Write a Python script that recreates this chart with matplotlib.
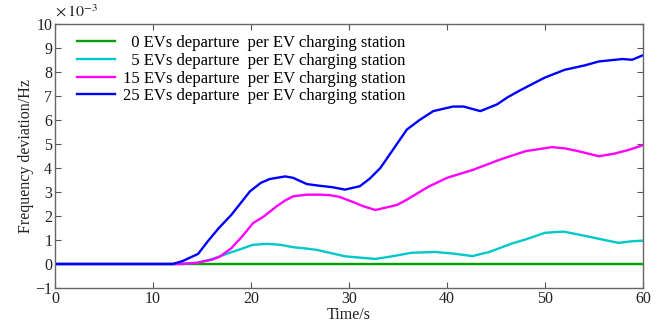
import matplotlib
matplotlib.use("Agg")
import matplotlib.pyplot as plt

plt.rcParams['font.family'] = ['Liberation Serif', 'DejaVu Serif']
plt.rcParams['mathtext.fontset'] = 'stix'

# Data (values in units of 1e-3 Hz)
t0 = [0, 60]
y0 = [0, 0]

t5 = [0, 12, 13, 14.5, 16, 17.5, 18.8, 20.2, 21.6, 23, 24.3, 25.5, 26.7, 28.2, 29.6, 31, 32.7,
      34.4, 36.4, 38.8, 40.5, 42.6, 44.3, 46.6, 48, 50, 51.9, 54.1, 56.2, 57.5, 58.9, 60]
y5 = [0, 0, 0.02, 0.05, 0.2, 0.42, 0.6, 0.8, 0.84, 0.8, 0.7, 0.65, 0.59, 0.45, 0.32, 0.27, 0.21,
      0.32, 0.47, 0.5, 0.44, 0.33, 0.5, 0.85, 1.02, 1.3, 1.35, 1.17, 0.99, 0.88, 0.95, 0.97]

t15 = [0, 13, 14.5, 16, 16.8, 18, 19.1, 20.2, 21.3, 22.6, 23.5, 24.3, 25.7, 27, 28, 29, 30.3,
       31.5, 32.7, 34.9, 35.9, 38.1, 40, 42.7, 45.4, 48, 50.7, 52, 53.4, 55.5, 57.1, 58.5, 60]
y15 = [0, 0, 0.05, 0.18, 0.3, 0.66, 1.15, 1.7, 1.98, 2.4, 2.65, 2.82, 2.89, 2.89, 2.87, 2.8, 2.6,
       2.4, 2.25, 2.46, 2.68, 3.22, 3.59, 3.93, 4.35, 4.7, 4.87, 4.82, 4.7, 4.49, 4.6, 4.75, 4.95]

t25 = [0, 12, 13, 14.6, 15.6, 16.7, 18, 19.9, 21, 21.9, 23.5, 24.3, 25.7, 27, 28.3, 29.6,
       31.1, 32.1, 33.2, 34.5, 35.9, 37.2, 38.6, 40.6, 41.7, 43.4, 45.1, 46.2, 47.3, 48.7, 50,
       52, 54.1, 55.5, 57.9, 58.9, 60]
y25 = [0, 0, 0.12, 0.42, 0.95, 1.49, 2.05, 3.03, 3.38, 3.54, 3.65, 3.59, 3.33, 3.26, 3.2, 3.1,
       3.24, 3.55, 4.0, 4.77, 5.6, 6.0, 6.37, 6.56, 6.56, 6.37, 6.65, 6.95, 7.2, 7.5, 7.77,
       8.09, 8.28, 8.44, 8.54, 8.51, 8.7]

labels = ["  0 EVs departure  per EV charging station",
          "  5 EVs departure  per EV charging station",
          "15 EVs departure  per EV charging station",
          "25 EVs departure  per EV charging station"]
colors = ["#00a000", "#00c8c8", "#ff00ff", "#0000ff"]

xticks = [0, 10, 20, 30, 40, 50, 60]
yticks = list(range(-1, 11))

fig = plt.figure(figsize=(6.64, 3.24), dpi=100)
ax = fig.add_axes([55/664, 1-288/324, (643-55)/664, (288-24)/324])

series = [(t0, y0), (t5, y5), (t15, y15), (t25, y25)]
for (tt, yy), c, lab in zip(series, colors, labels):
    ax.plot(tt, yy, color=c, lw=1.7, label=lab, solid_joinstyle='round')

ax.set_xlim(0, 60)
ax.set_ylim(-1, 10)
ax.set_xticks(xticks)
ax.set_yticks(yticks)
ax.tick_params(direction='in', top=True, right=True, length=4, width=0.8,
               labelsize=11.5, colors='#555555', labelcolor='#222222', pad=2)
for s in ax.spines.values():
    s.set_color('#666666')
    s.set_linewidth(1.0)

ax.set_xlabel("Time/s", fontsize=11.5, labelpad=0, color='#222222')
ax.set_ylabel("Frequency deviation/Hz", fontsize=11.5, labelpad=1, color='#222222')
fig.text(55/664, 1-17/324, r"$\times\,10^{-3}$", fontsize=11.5, color='#222222', va='baseline')

leg = ax.legend(loc='upper left', bbox_to_anchor=(0.02, 0.995), frameon=False, fontsize=12,
                handlelength=2.3, labelspacing=0.1, handletextpad=0.5, borderaxespad=0.2)

fig.savefig("out.png", dpi=100)
